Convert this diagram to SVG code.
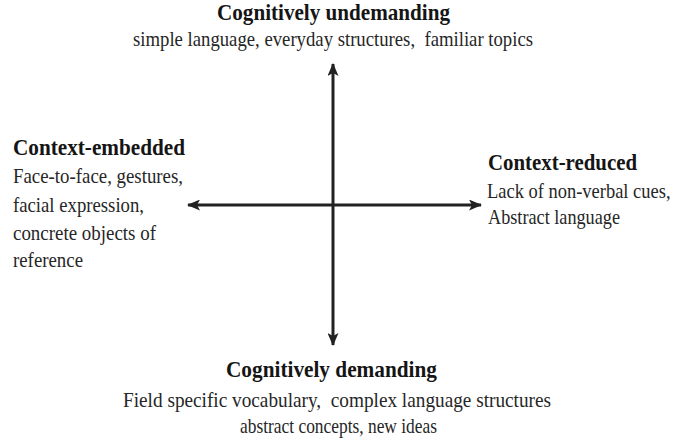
<svg xmlns="http://www.w3.org/2000/svg" width="676" height="443" viewBox="0 0 676 443">
<style>
.h{font-family:"Liberation Serif","Times New Roman",serif;font-weight:bold;font-size:24px;fill:#151515}
.b{font-family:"Liberation Serif","Times New Roman",serif;font-size:22px;fill:#262626}
.ax{stroke:#222;stroke-width:3;fill:none}
</style>
<defs>
<marker id="ah" viewBox="0 0 13 11" refX="12" refY="5.5" markerWidth="13" markerHeight="11" markerUnits="userSpaceOnUse" orient="auto-start-reverse">
<path d="M0,0 L13,5.5 L0,11 L3,5.5 Z" fill="#222"/>
</marker>
</defs>
<rect width="676" height="443" fill="#fff"/>
<g id="connectors">
<line class="ax" x1="333" y1="200" x2="333" y2="64" marker-end="url(#ah)"/>
<line class="ax" x1="333" y1="200" x2="333" y2="345" marker-end="url(#ah)"/>
<line class="ax" x1="188" y1="205" x2="481" y2="205" marker-start="url(#ah)" marker-end="url(#ah)"/>
</g>
<g id="top">
<text class="h" x="217" y="20" textLength="233" lengthAdjust="spacingAndGlyphs">Cognitively undemanding</text>
<text class="b" x="133" y="46" textLength="400" lengthAdjust="spacingAndGlyphs" xml:space="preserve">simple language, everyday structures,  familiar topics</text>
</g>
<g id="left">
<text class="h" x="13" y="155" textLength="172" lengthAdjust="spacingAndGlyphs">Context-embedded</text>
<text class="b" x="13" y="183" textLength="170" lengthAdjust="spacingAndGlyphs">Face-to-face, gestures,</text>
<text class="b" x="13" y="212" textLength="131" lengthAdjust="spacingAndGlyphs">facial expression,</text>
<text class="b" x="13" y="240" textLength="143" lengthAdjust="spacingAndGlyphs">concrete objects of</text>
<text class="b" x="13" y="267" textLength="70" lengthAdjust="spacingAndGlyphs">reference</text>
</g>
<g id="right">
<text class="h" x="488" y="170" textLength="149" lengthAdjust="spacingAndGlyphs">Context-reduced</text>
<text class="b" transform="translate(487,198) scale(0.84,1)" x="0" y="0">Lack of non-verbal cues,</text>
<text class="b" x="488" y="224" textLength="132" lengthAdjust="spacingAndGlyphs">Abstract language</text>
</g>
<g id="bottom">
<text class="h" x="226" y="377" textLength="211" lengthAdjust="spacingAndGlyphs">Cognitively demanding</text>
<text class="b" x="123" y="407" textLength="428" lengthAdjust="spacingAndGlyphs" xml:space="preserve">Field specific vocabulary,  complex language structures</text>
<text class="b" x="240" y="433" textLength="197" lengthAdjust="spacingAndGlyphs">abstract concepts, new ideas</text>
</g>
</svg>
